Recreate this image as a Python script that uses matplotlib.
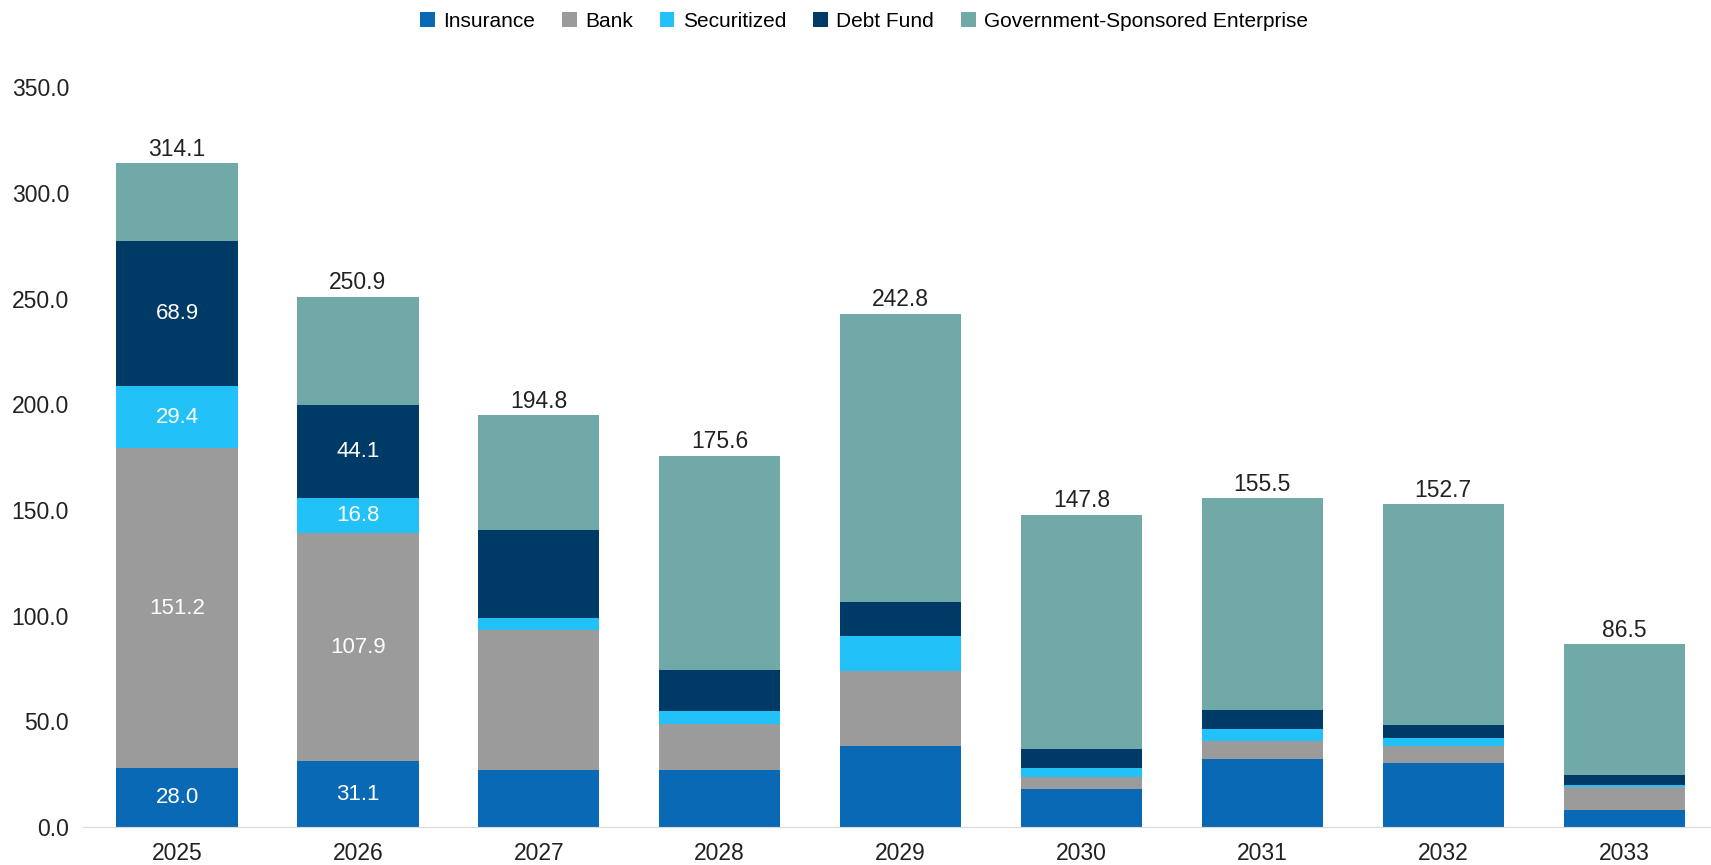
import matplotlib.pyplot as plt
import numpy as np

plt.rcParams['font.family'] = ['Liberation Sans', 'DejaVu Sans']

years = ['2025', '2026', '2027', '2028', '2029', '2030', '2031', '2032', '2033']
insurance = [28.0, 31.1, 26.8, 26.8, 38.2, 18.1, 32.0, 30.1, 8.0]
bank = [151.2, 107.9, 66.6, 21.7, 35.6, 5.6, 8.8, 8.4, 10.9]
securitized = [29.4, 16.8, 5.7, 6.2, 16.5, 4.2, 5.7, 3.5, 1.1]
debt_fund = [68.9, 44.1, 41.3, 19.6, 16.0, 8.8, 8.8, 6.4, 4.4]
totals = [314.1, 250.9, 194.8, 175.6, 242.8, 147.8, 155.5, 152.7, 86.5]
# GSE is whatever is left to reach the total
gse = [round(t - a - b - c - d, 1) for t, a, b, c, d in
       zip(totals, insurance, bank, securitized, debt_fund)]

# only the first two years carry segment labels
labelled_years = 2

series = [
    ('Insurance', insurance, '#0a69b4'),
    ('Bank', bank, '#9b9b9b'),
    ('Securitized', securitized, '#22c2f8'),
    ('Debt Fund', debt_fund, '#003a66'),
    ('Government-Sponsored Enterprise', gse, '#71a8a8'),
]

fig = plt.figure(figsize=(17.11, 8.65), dpi=100)
ax = fig.add_axes([0.0485, 0.044, 0.9515, 0.855])

x = np.arange(len(years))
width = 0.67
bottom = np.zeros(len(years))
for name, vals, color in series:
    vals = np.array(vals)
    ax.bar(x, vals, width, bottom=bottom, color=color, label=name)
    if name != 'Government-Sponsored Enterprise':
        for i in range(labelled_years):
            ax.text(x[i], bottom[i] + vals[i] / 2, f'{vals[i]:.1f}',
                    ha='center', va='center', color='white', fontsize=16)
    bottom += vals

for i, t in enumerate(totals):
    ax.text(x[i], t + 3.5, f'{t:.1f}', ha='center', va='baseline',
            color='#222222', fontsize=16.5)

ax.set_xlim(-0.52, 8.48)
ax.set_ylim(0, 350)
ax.set_yticks(np.arange(0, 351, 50))
ax.set_yticklabels([f'{v:.1f}' for v in np.arange(0, 351, 50)])
ax.set_xticks(x)
ax.set_xticklabels(years)
ax.tick_params(axis='both', length=0, labelsize=16.5, colors='#222222')
ax.tick_params(axis='x', pad=11)
ax.tick_params(axis='y', pad=10)
for s in ['top', 'right', 'left']:
    ax.spines[s].set_visible(False)
ax.spines['bottom'].set_color('#d9d9d9')

fig.legend(loc='upper center', bbox_to_anchor=(0.505, 1.008), ncol=5,
           frameon=False, fontsize=15, handlelength=0.7, handleheight=0.7,
           handletextpad=0.4, columnspacing=1.3)

fig.savefig('out.png', dpi=100)
